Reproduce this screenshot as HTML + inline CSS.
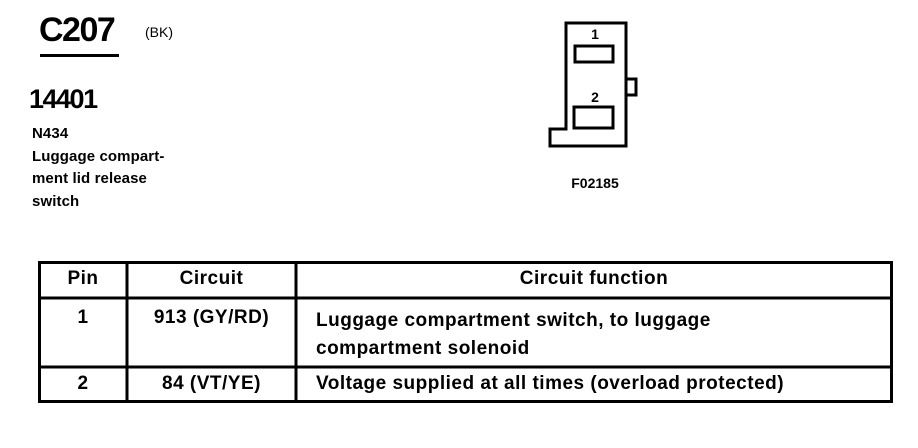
<!DOCTYPE html>
<html><head><style>
body{margin:0;width:918px;height:448px;background:#fff;position:relative;overflow:hidden;font-family:"Liberation Sans",Arial,sans-serif;color:#000}
.a{position:absolute;white-space:nowrap}
.t{position:absolute;font-size:19px;font-weight:bold;letter-spacing:0.5px;white-space:nowrap}
.b{font-weight:bold}
</style></head><body>
<div class="a b" style="left:39px;top:11px;font-size:34px;letter-spacing:-1.5px">C207</div>
<div class="a" style="left:40px;top:54px;width:79px;height:3px;background:#000"></div>
<div class="a" style="left:145px;top:24px;font-size:14px">(BK)</div>
<div class="a b" style="left:29px;top:84px;font-size:27px;letter-spacing:-1.5px">14401</div>
<div class="a b" style="left:32px;top:123px;font-size:15px;line-height:22.7px;letter-spacing:0.1px">N434<br>Luggage compart-<br>ment lid release<br>switch</div>

<svg class="a" style="left:0;top:0" width="918" height="448">
<path d="M566 23 H626 V146 H550 V129 H566 Z" fill="none" stroke="#000" stroke-width="3"/>
<path d="M626 79 H636 V95 H626" fill="none" stroke="#000" stroke-width="3"/>
<rect x="575" y="46" width="38" height="16" fill="none" stroke="#000" stroke-width="3"/>
<rect x="574" y="107" width="39" height="21" fill="none" stroke="#000" stroke-width="3"/>
<text x="595" y="39" font-size="14" font-weight="bold" text-anchor="middle" font-family="Liberation Sans">1</text>
<text x="595" y="102" font-size="14" font-weight="bold" text-anchor="middle" font-family="Liberation Sans">2</text>
<text x="595" y="188" font-size="14" font-weight="bold" text-anchor="middle" font-family="Liberation Sans">F02185</text>
<g stroke="#000" stroke-width="3" fill="none">
<rect x="39.5" y="262.5" width="852" height="139"/>
<line x1="39" y1="298" x2="892" y2="298"/>
<line x1="39" y1="367" x2="892" y2="367"/>
<line x1="127" y1="262" x2="127" y2="401"/>
<line x1="296" y1="262" x2="296" y2="401"/>
</g>
</svg>
<div class="t" style="left:39px;width:88px;text-align:center;top:268px">Pin</div>
<div class="t" style="left:127px;width:169px;text-align:center;top:268px">Circuit</div>
<div class="t" style="left:296px;width:596px;text-align:center;top:268px">Circuit function</div>
<div class="t" style="left:39px;width:88px;text-align:center;top:307px">1</div>
<div class="t" style="left:127px;width:169px;text-align:center;top:307px">913 (GY/RD)</div>
<div class="t" style="left:316px;top:307px;line-height:28px">Luggage compartment switch, to luggage<br>compartment solenoid</div>
<div class="t" style="left:39px;width:88px;text-align:center;top:373px">2</div>
<div class="t" style="left:127px;width:169px;text-align:center;top:373px">84 (VT/YE)</div>
<div class="t" style="left:316px;top:373px">Voltage supplied at all times (overload protected)</div>
</body></html>
